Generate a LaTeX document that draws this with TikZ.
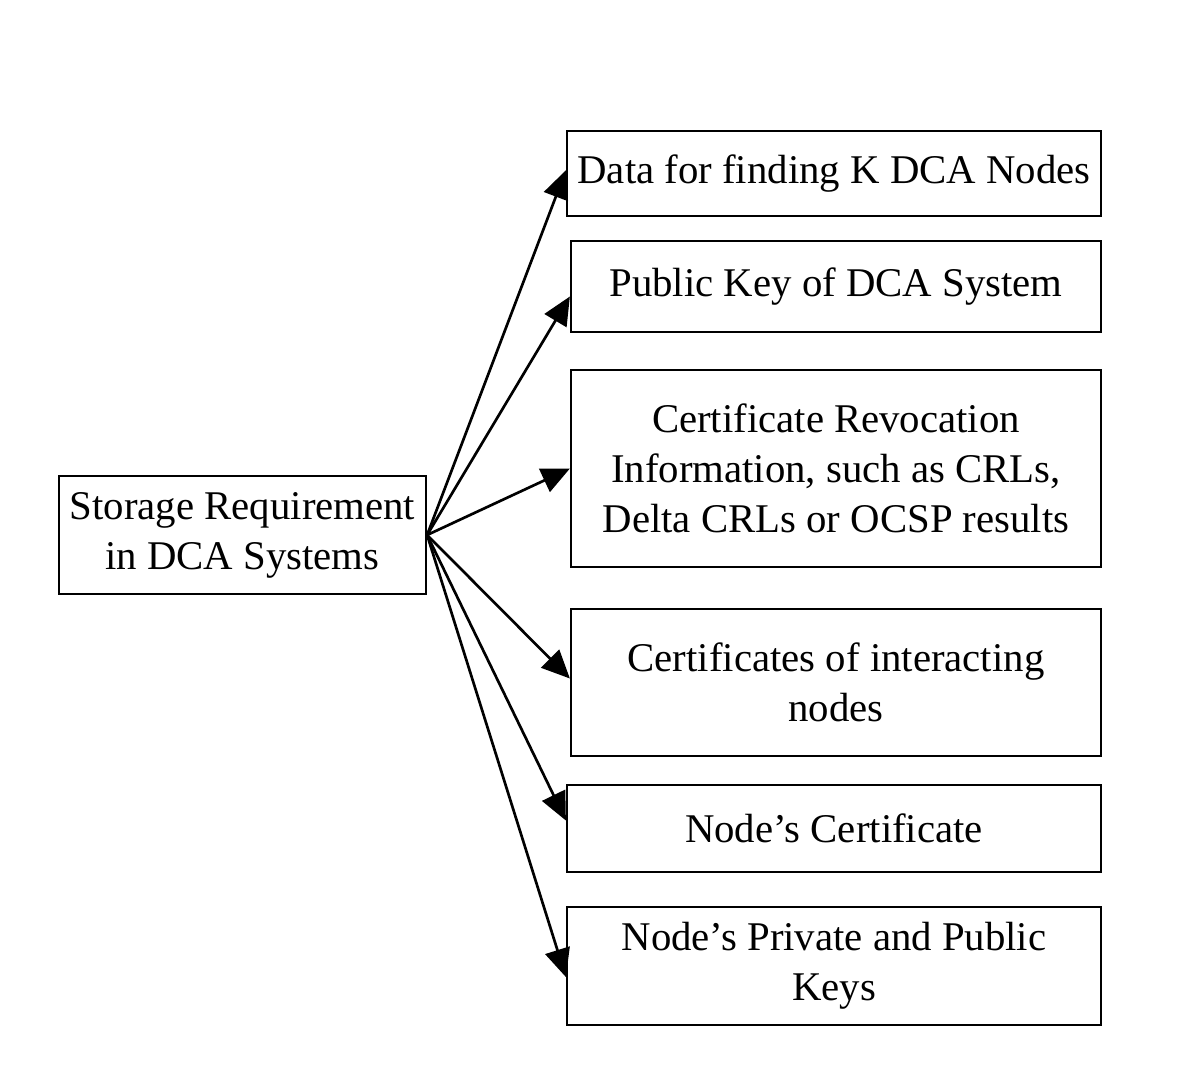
\documentclass[tikz,border=0pt]{standalone}
\usepackage{fontspec}
\setmainfont{Liberation Serif}
\usetikzlibrary{arrows.meta}

\begin{document}
\begin{tikzpicture}[x=0.025cm, y=-0.025cm,
    box/.style={draw, line width=1.5pt, inner sep=0pt, align=center,
        font=\fontsize{29}{35.6}\selectfont},
    link/.style={line width=1.9pt, -{Triangle[length=20pt, width=18pt]}}]
    \useasboundingbox (0,0) rectangle (1200,1065);

    % Source box
    \node[box, minimum width=9.175cm, minimum height=2.95cm] (src) at (242.5,535)
        {Storage Requirement\\in DCA Systems};

    % Storage items
    \node[box, minimum width=13.35cm, minimum height=2.125cm] (data) at (834,173.5)
        {Data for finding K DCA Nodes};
    \node[box, minimum width=13.25cm, minimum height=2.275cm] (pubkey) at (836,286.5)
        {Public Key of DCA System};
    \node[box, minimum width=13.25cm, minimum height=4.925cm] (crl) at (836,468.5)
        {Certificate Revocation\\Information, such as CRLs,\\Delta CRLs or OCSP results};
    \node[box, minimum width=13.25cm, minimum height=3.675cm] (certs) at (836,682.5)
        {Certificates of interacting\\nodes};
    \node[box, minimum width=13.35cm, minimum height=2.175cm] (nodecert) at (834,828.5)
        {Node’s Certificate};
    \node[box, minimum width=13.35cm, minimum height=2.95cm] (keys) at (834,966)
        {Node’s Private and Public\\Keys};

    % Arrows from the source
    \draw[link] (src.east) -- ([yshift=0.08cm]data.west);
    \draw[link] (src.east) -- ([yshift=-0.25cm]pubkey.west);
    \draw[link] (src.east) -- (crl.west);
    \draw[link] (src.east) -- ([yshift=0.1cm]certs.west);
    \draw[link] (src.east) -- ([yshift=0.2cm]nodecert.west);
    \draw[link] (src.east) -- ([yshift=-0.275cm]keys.west);

\end{tikzpicture}
\end{document}
